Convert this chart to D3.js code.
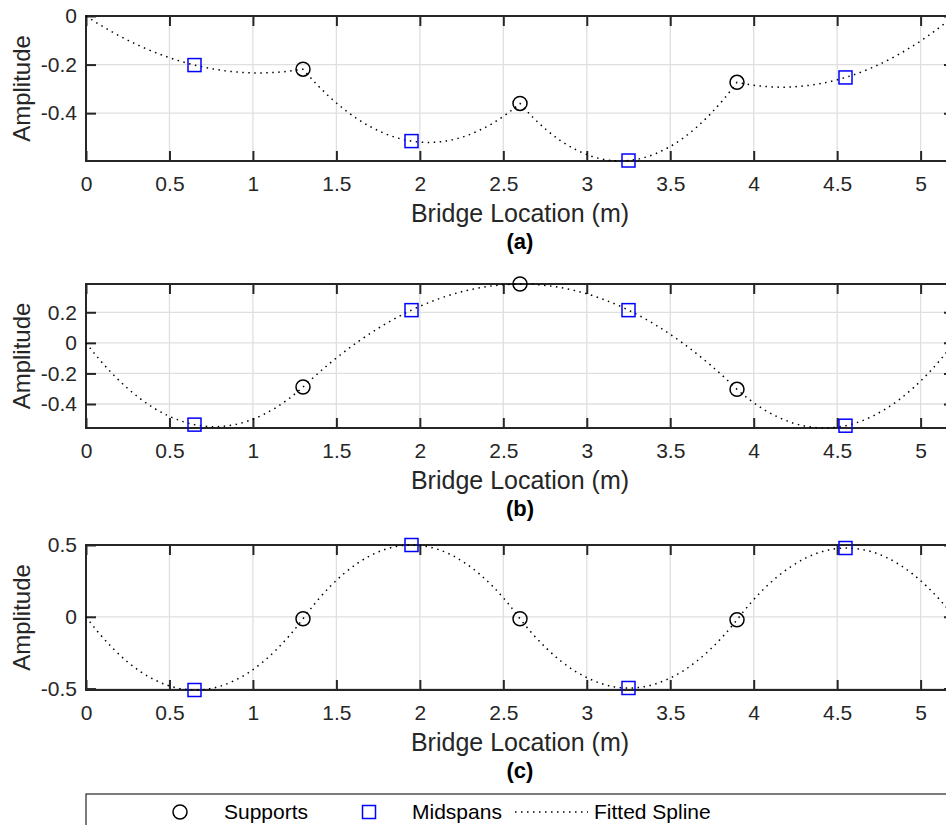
<!DOCTYPE html>
<html>
<head>
<meta charset="utf-8">
<script src="https://cdn.jsdelivr.net/npm/d3@7"></script>
<style>
  html, body { margin: 0; padding: 0; background: #fff; overflow: hidden; }
  svg { display: block; font-family: "Liberation Sans", Arial, Helvetica, sans-serif; }
</style>
</head>
<body>
<svg id="chart" width="946" height="825"></svg>
<script>
// Bridge geometry: four equal spans of 1.3 m
const bridgeEnds = [0, 5.2];
const supportX = [1.3, 2.6, 3.9];
const midspanX = [0.65, 1.95, 3.25, 4.55];

// Mode shape amplitudes (a), (b), (c)
const supportA = [-0.219, -0.360, -0.273];
const midspanA = [-0.202, -0.515, -0.595, -0.253];
const supportB = [-0.289, 0.385, -0.304];
const midspanB = [-0.535, 0.214, 0.214, -0.542];
const supportC = [-0.014, -0.014, -0.021];
const midspanC = [-0.510, 0.500, -0.496, 0.479];

// Axis limits and ticks
const xLim = [0, 5.2];
const xTicks = [0, 0.5, 1, 1.5, 2, 2.5, 3, 3.5, 4, 4.5, 5];
const xTickLabels = ["0", "0.5", "1", "1.5", "2", "2.5", "3", "3.5", "4", "4.5", "5"];
const yLimA = [-0.597, 0];
const yTicksA = [0, -0.2, -0.4];
const yTickLabelsA = ["0", "-0.2", "-0.4"];
const yLimB = [-0.557, 0.385];
const yTicksB = [0.2, 0, -0.2, -0.4];
const yTickLabelsB = ["0.2", "0", "-0.2", "-0.4"];
const yLimC = [-0.51, 0.5];
const yTicksC = [0.5, 0, -0.5];
const yTickLabelsC = ["0.5", "0", "-0.5"];

const ink = "#262626";
const gridColor = "#dfdfdf";
const svg = d3.select("#chart");

const x = d3.scaleLinear().domain(xLim).range([86, 954]);

const panels = [
  { top: 16,  bottom: 161, yLim: yLimA, yTicks: yTicksA, yLabels: yTickLabelsA, sup: supportA, mid: midspanA, tag: "(a)" },
  { top: 284, bottom: 428, yLim: yLimB, yTicks: yTicksB, yLabels: yTickLabelsB, sup: supportB, mid: midspanB, tag: "(b)" },
  { top: 545, bottom: 690, yLim: yLimC, yTicks: yTicksC, yLabels: yTickLabelsC, sup: supportC, mid: midspanC, tag: "(c)" }
];

function drawPanel(p) {
  const y = d3.scaleLinear().domain(p.yLim).range([p.bottom, p.top]);
  const g = svg.append("g");
  const [x0, x1] = x.range();

  // grid
  g.append("g").selectAll("line").data(xTicks).join("line")
    .attr("x1", d => x(d)).attr("x2", d => x(d))
    .attr("y1", p.top).attr("y2", p.bottom)
    .attr("stroke", gridColor).attr("stroke-width", 1.3);
  g.append("g").selectAll("line").data(p.yTicks).join("line")
    .attr("x1", x0).attr("x2", x1)
    .attr("y1", d => y(d)).attr("y2", d => y(d))
    .attr("stroke", gridColor).attr("stroke-width", 1.3);

  // axes with inward ticks
  const fmtX = d => xTickLabels[xTicks.indexOf(d)];
  const fmtY = d => p.yLabels[p.yTicks.indexOf(d)];
  const styleAxis = sel => {
    sel.select(".domain").remove();
    sel.selectAll(".tick line").attr("stroke", ink).attr("stroke-width", 2);
    sel.selectAll(".tick text").attr("fill", ink).style("font-size", "21px");
  };
  g.append("g").attr("transform", `translate(0,${p.bottom})`)
    .call(d3.axisBottom(x).tickValues(xTicks).tickFormat(fmtX).tickSizeInner(-10).tickSizeOuter(0).tickPadding(15))
    .call(styleAxis);
  g.append("g").attr("transform", `translate(0,${p.top})`)
    .call(d3.axisTop(x).tickValues(xTicks).tickFormat("").tickSizeInner(-10).tickSizeOuter(0))
    .call(styleAxis);
  g.append("g").attr("transform", `translate(${x0},0)`)
    .call(d3.axisLeft(y).tickValues(p.yTicks).tickFormat(fmtY).tickSizeInner(-10).tickSizeOuter(0).tickPadding(9))
    .call(styleAxis);
  g.append("g").attr("transform", `translate(${x1},0)`)
    .call(d3.axisRight(y).tickValues(p.yTicks).tickFormat("").tickSizeInner(-10).tickSizeOuter(0))
    .call(styleAxis);

  // axes box
  g.append("rect")
    .attr("x", x0).attr("y", p.top)
    .attr("width", x1 - x0).attr("height", p.bottom - p.top)
    .attr("fill", "none").attr("stroke", ink).attr("stroke-width", 2);

  // fitted spline: one parabola per span through support, midspan, support
  const nodeX = [bridgeEnds[0], ...supportX, bridgeEnds[1]];
  const nodeY = [0, ...p.sup, 0];
  const path = d3.path();
  midspanX.forEach((mx, i) => {
    const ax = x(nodeX[i]), ay = y(nodeY[i]);
    const bx = x(nodeX[i + 1]), by = y(nodeY[i + 1]);
    const mxp = x(mx), myp = y(p.mid[i]);
    if (i === 0) path.moveTo(ax, ay);
    path.quadraticCurveTo(2 * mxp - (ax + bx) / 2, 2 * myp - (ay + by) / 2, bx, by);
  });
  g.append("path").attr("d", path.toString())
    .attr("fill", "none").attr("stroke", "#000").attr("stroke-width", 1.5)
    .attr("stroke-dasharray", "1.5 4.5");

  // supports
  g.append("g").selectAll("circle").data(supportX).join("circle")
    .attr("cx", d => x(d)).attr("cy", (d, i) => y(p.sup[i])).attr("r", 7)
    .attr("fill", "none").attr("stroke", "#000").attr("stroke-width", 1.5);

  // midspans
  const s = 13;
  g.append("g").selectAll("rect").data(midspanX).join("rect")
    .attr("x", d => x(d) - s / 2).attr("y", (d, i) => y(p.mid[i]) - s / 2)
    .attr("width", s).attr("height", s)
    .attr("fill", "none").attr("stroke", "#0000ff").attr("stroke-width", 1.5);

  // labels
  const cx = (x0 + x1) / 2;
  g.append("text").attr("x", cx).attr("y", p.bottom + 61)
    .attr("text-anchor", "middle").attr("fill", ink).style("font-size", "25px")
    .text("Bridge Location (m)");
  g.append("text").attr("x", cx).attr("y", p.bottom + 88)
    .attr("text-anchor", "middle").attr("fill", "#000").style("font-size", "22px").style("font-weight", "bold")
    .text(p.tag);
  g.append("text")
    .attr("transform", `translate(30,${(p.top + p.bottom) / 2}) rotate(-90)`)
    .attr("text-anchor", "middle").attr("fill", ink).style("font-size", "24px")
    .text("Amplitude");
}

panels.forEach(drawPanel);

// legend
const lg = svg.append("g");
lg.append("rect").attr("x", 86).attr("y", 794).attr("width", 868).attr("height", 60)
  .attr("fill", "#fff").attr("stroke", ink).attr("stroke-width", 1.2);
const ly = 812;
lg.append("circle").attr("cx", 180).attr("cy", ly).attr("r", 7)
  .attr("fill", "none").attr("stroke", "#000").attr("stroke-width", 1.5);
lg.append("text").attr("x", 224).attr("y", ly + 7).attr("fill", "#000").style("font-size", "21px").text("Supports");
lg.append("rect").attr("x", 369 - 6.5).attr("y", ly - 6.5).attr("width", 13).attr("height", 13)
  .attr("fill", "none").attr("stroke", "#0000ff").attr("stroke-width", 1.5);
lg.append("text").attr("x", 412).attr("y", ly + 7).attr("fill", "#000").style("font-size", "21px").text("Midspans");
lg.append("line").attr("x1", 515).attr("x2", 588).attr("y1", ly).attr("y2", ly)
  .attr("stroke", "#000").attr("stroke-width", 1.5).attr("stroke-dasharray", "1.5 4.5");
lg.append("text").attr("x", 594).attr("y", ly + 7).attr("fill", "#000").style("font-size", "21px").text("Fitted Spline");
</script>
</body>
</html>
